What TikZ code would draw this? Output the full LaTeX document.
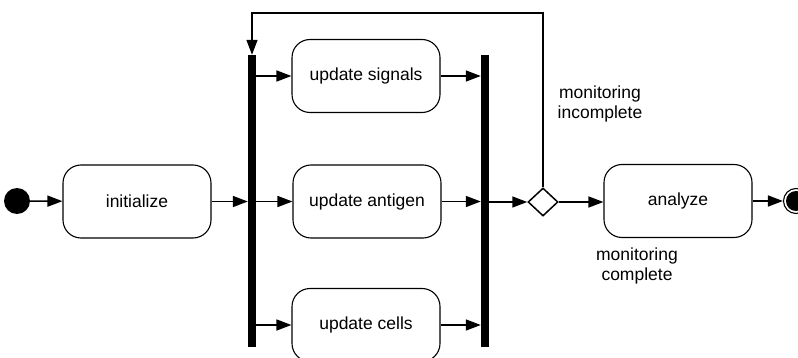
\documentclass[tikz,border=0pt]{standalone}
\usepackage{fontspec}
\setmainfont{Liberation Sans}
\usetikzlibrary{shapes.geometric,arrows.meta}
\begin{document}
\begin{tikzpicture}[x=1pt,y=-1pt,
  every node/.style={font=\fontsize{17.5}{20}\selectfont},
  activity/.style={draw, line width=1.1pt, rounded corners=18pt, minimum width=148pt, minimum height=73pt, inner sep=0pt},
  bar/.style={fill=black, draw=none, minimum width=8pt, minimum height=292pt, inner sep=0pt},
  flow/.style={line width=1.5pt, -{Triangle[length=15pt,width=11pt]}},
  decision/.style={draw, diamond, line width=1.5pt, minimum width=30pt, minimum height=28pt, inner sep=0pt, aspect=1}]
\useasboundingbox (0,0) rectangle (798,358);

% start and end markers
\node[circle, fill=black, minimum size=26pt, inner sep=0pt] (start) at (17,201) {};
\node[circle, draw, line width=1.1pt, minimum size=25pt, inner sep=0pt] (end) at (796,201) {};
\fill (end.center) circle (10pt);

% actions
\node[activity] (init) at (137,201.5) {initialize};
\node[activity] (sig) at (366,76) {update signals};
\node[activity] (ant) at (367,201.5) {update antigen};
\node[activity] (cells) at (366,325) {update cells};
\node[activity] (ana) at (678,201) {analyze};

% fork and join bars
\node[bar] (fork) at (252,201) {};
\node[bar] (join) at (485,201) {};

% decision
\node[decision] (dec) at (543,202) {};
\coordinate (loopR) at (543,13);
\coordinate (loopL) at (252,13);

% guards
\node[align=center] at (600,104) {monitoring\\incomplete};
\node[align=center] at (637,266) {monitoring\\complete};

% flows
\draw[flow] (start) -- (init);
\draw[flow] (init.east) -- (fork.west |- init.east);
\draw[flow] (fork.east |- sig.west) -- (sig.west);
\draw[flow] (fork.east |- ant.west) -- (ant.west);
\draw[flow] (fork.east |- cells.west) -- (cells.west);
\draw[flow] (sig.east) -- (join.west |- sig.east);
\draw[flow] (ant.east) -- (join.west |- ant.east);
\draw[flow] (cells.east) -- (join.west |- cells.east);
\draw[flow] (join.east |- dec.west) -- (dec.west);
\draw[flow] (dec.east) -- (ana.west |- dec.east);
\draw[flow] (ana.east) -- (end.west);
\draw[flow] (dec.north) -- (loopR) -- (loopL) -- (fork.north);
\end{tikzpicture}
\end{document}
